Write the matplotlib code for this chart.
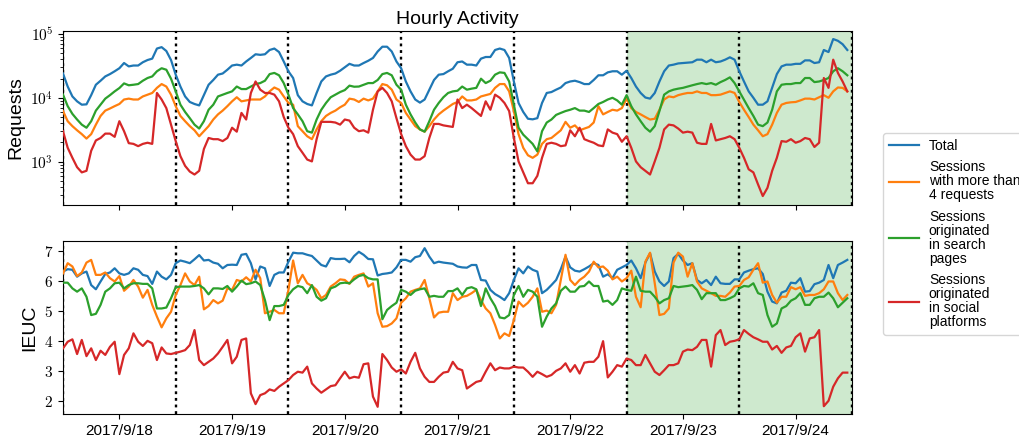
import numpy as np
import matplotlib
matplotlib.use('Agg')
import matplotlib.pyplot as plt
from matplotlib.ticker import FixedLocator, FixedFormatter, NullFormatter, LogLocator

plt.rcParams['font.family'] = ['Liberation Sans', 'DejaVu Sans']
plt.rcParams['mathtext.fontset'] = 'cm'

# ---------------- data ----------------
day_labels = ['2017/9/18', '2017/9/19', '2017/9/20', '2017/9/21',
              '2017/9/22', '2017/9/23', '2017/9/24']
weekend_days = ['2017/9/23', '2017/9/24']
series_labels = ['Total',
                 'Sessions\nwith more than\n4 requests',
                 'Sessions\noriginated\nin search\npages',
                 'Sessions\noriginated\nin social\nplatforms']
colors = ['#1f77b4', '#ff7f0e', '#2ca02c', '#d62728']

# Hourly requests (one value per hour, 7 days x 24 h)
req_total = [
    24000, 15000, 10500, 8800, 7800, 7900, 11000, 16000, 18500, 21600, 23500, 26000,
    29000, 35000, 31000, 32000, 32000, 36000, 39000, 41000, 59000, 62000, 54000, 39000,
    23000, 15000, 10500, 8600, 8000, 7600, 11000, 16000, 19000, 23000, 24000, 27500,
    32000, 33000, 32000, 37000, 42000, 48000, 47000, 48000, 56000, 59000, 52000, 37000,
    25900, 20400, 11000, 8800, 8000, 7600, 11900, 18000, 21600, 23000, 24000, 26500,
    30000, 34000, 32000, 32000, 35000, 38000, 42000, 53000, 63000, 63000, 53000, 37000,
    29000, 18000, 12600, 9400, 8400, 9400, 13400, 19000, 23000, 23500, 26000, 28500,
    36000, 37000, 33000, 33000, 32000, 41000, 43500, 43500, 56000, 59000, 56000, 42000,
    18000, 8300, 6000, 4700, 4600, 4800, 8300, 11900, 12300, 13400, 14500, 17000,
    18000, 18500, 17600, 16400, 16400, 19000, 22500, 22500, 25000, 26000, 26000, 23000,
    26500, 20400, 15000, 11900, 10100, 9700, 11900, 18000, 26000, 32000, 33000, 34500,
    35000, 35500, 36000, 39500, 39500, 36000, 39500, 36000, 37000, 39500, 43000, 39500,
    26000, 18000, 12600, 10000, 7800, 7800, 8800, 14300, 23500, 31000, 33000, 33000,
    34000, 34000, 38500, 38500, 35000, 36000, 56000, 52000, 83000, 78000, 69000, 56000,
]
req_more4 = [
    6200, 4300, 3600, 3100, 2700, 2300, 2700, 3800, 5200, 6300, 6800, 7400,
    8000, 9400, 9700, 9400, 9400, 10500, 11200, 11900, 14300, 16400, 15000, 11200,
    7400, 5200, 4300, 3600, 3100, 2500, 3000, 3600, 4570, 5500, 6300, 7400,
    8800, 10200, 8800, 9100, 9400, 9400, 9400, 10500, 12600, 14500, 13400, 10500,
    8300, 7800, 3600, 3000, 2500, 2250, 3200, 4300, 5200, 5800, 6300, 7100,
    7800, 9700, 9400, 8600, 9700, 9100, 9700, 12600, 16400, 15700, 13400, 9400,
    8300, 5800, 4570, 3600, 3200, 2950, 3600, 4570, 5500, 6300, 7100, 8000,
    8600, 10500, 9100, 9100, 9400, 10500, 11000, 11500, 14300, 16400, 16400, 12600,
    6200, 2700, 1650, 1260, 1150, 1290, 1900, 2250, 2350, 2700, 3100, 4200,
    3400, 3700, 3100, 3300, 3500, 4100, 7400, 5500, 6000, 6500, 6300, 6900,
    9700, 6900, 6000, 5500, 5000, 4570, 4700, 6500, 9400, 10500, 10200, 11000,
    11500, 11900, 11900, 12600, 11900, 11900, 11000, 11000, 11200, 11900, 12600, 11900,
    8600, 6500, 5000, 3800, 3100, 2500, 2700, 3800, 5800, 7800, 8300, 8500,
    8600, 9100, 9700, 9700, 9400, 10200, 11000, 10000, 12600, 14500, 14300, 12600,
]
req_search = [
    11200, 7400, 5600, 4570, 3800, 3400, 4300, 6300, 7800, 9700, 11000, 12600,
    14200, 16800, 15700, 16000, 16400, 18500, 20400, 21600, 26000, 29000, 27500, 19900,
    12600, 7800, 6000, 4800, 3800, 3300, 4300, 6500, 7800, 10500, 11200, 11900,
    12600, 15000, 13700, 13700, 15000, 16400, 17000, 18500, 23500, 24500, 22500, 17000,
    11200, 6900, 5500, 4300, 3000, 2850, 4570, 6500, 8300, 10200, 11200, 12300,
    13200, 15500, 14900, 15000, 16000, 17000, 17000, 19000, 23500, 24500, 22500, 16000,
    13400, 7800, 5500, 4100, 3200, 2950, 4300, 6500, 8300, 10200, 11900, 12600,
    12900, 15000, 13400, 13900, 14300, 19900, 17000, 18500, 23000, 25000, 24500, 18000,
    7800, 3400, 2650, 2250, 1900, 1450, 3000, 4100, 4570, 5400, 5800, 6200,
    6500, 6900, 6300, 6300, 6000, 6900, 8000, 8600, 9400, 10000, 9100, 7800,
    11000, 7400, 5500, 4300, 3400, 2950, 3600, 6200, 11200, 12600, 13400, 13900,
    14300, 15000, 15700, 16400, 17000, 16400, 17000, 16000, 17600, 19000, 20900, 17000,
    12600, 9400, 6900, 5200, 3800, 3600, 4100, 6500, 12600, 16000, 16400, 16400,
    17000, 17000, 20400, 20400, 17600, 18000, 19000, 20400, 26000, 29000, 26000, 22500,
]
req_social = [
    3000, 1650, 1150, 820, 680, 720, 1480, 2150, 2350, 2750, 2750, 2450,
    4300, 3000, 1950, 1900, 1750, 1900, 1980, 1900, 11900, 9400, 6900, 3800,
    2100, 1220, 860, 700, 630, 720, 1580, 2350, 2250, 2250, 2100, 2350,
    3400, 2950, 5800, 4570, 11900, 18000, 13400, 11900, 11900, 11200, 8800, 5000,
    3400, 2700, 1750, 1380, 1080, 1010, 2250, 4200, 4200, 4200, 4100, 3800,
    4570, 4400, 3400, 3000, 3100, 2850, 6500, 12600, 14300, 11900, 8800, 4800,
    2700, 1750, 1290, 1080, 1080, 1220, 2350, 3900, 3900, 3700, 3600, 3500,
    9400, 6900, 7800, 6900, 6000, 5200, 8800, 6500, 11200, 10000, 8300, 6200,
    2350, 1010, 680, 460, 460, 600, 1150, 1900, 1980, 1900, 1750, 1800,
    3100, 2500, 3400, 2250, 2100, 1980, 1800, 1750, 3200, 2850, 2700, 2050,
    2500, 1650, 1010, 820, 720, 630, 1010, 1650, 3200, 3800, 3700, 3300,
    2850, 2950, 2850, 1980, 1900, 1900, 3900, 2150, 2250, 2350, 2500, 2250,
    1650, 1150, 760, 680, 440, 290, 390, 720, 1150, 2100, 2050, 2250,
    1980, 2100, 2350, 2250, 1700, 1980, 20400, 14300, 39500, 24500, 18000, 12600,
]

# Hourly IEUC
ieuc_total = [
    6.31, 6.39, 6.37, 6.14, 6.25, 6.31, 5.86, 5.72, 5.98, 6.23, 6.28, 6.42,
    6.25, 6.20, 6.25, 6.42, 6.37, 6.20, 6.16, 5.90, 6.31, 6.14, 6.05, 6.20,
    6.59, 6.68, 6.64, 6.59, 6.72, 6.86, 6.68, 6.70, 6.61, 6.57, 6.42, 6.53,
    6.54, 6.53, 6.87, 6.90, 6.59, 6.05, 6.48, 6.42, 5.83, 6.20, 6.28, 6.28,
    6.64, 6.94, 6.92, 6.92, 6.87, 6.83, 6.68, 6.53, 6.48, 6.76, 6.73, 6.73,
    6.74, 6.62, 6.83, 6.97, 6.87, 6.73, 6.72, 6.18, 6.23, 6.25, 6.28, 6.45,
    6.70, 6.70, 6.64, 6.79, 6.83, 7.09, 6.81, 6.59, 6.64, 6.61, 6.59, 6.57,
    6.48, 6.45, 6.44, 6.53, 6.53, 6.03, 6.01, 5.70, 5.56, 5.47, 5.36, 5.59,
    6.03, 6.42, 6.25, 6.48, 6.37, 6.31, 5.59, 5.70, 5.86, 6.03, 6.39, 6.81,
    6.45, 6.34, 6.31, 6.39, 6.48, 6.59, 6.53, 6.14, 6.22, 6.09, 6.37, 6.45,
    6.53, 6.68, 6.42, 6.09, 6.61, 6.92, 6.31, 5.98, 5.83, 5.98, 6.76, 6.90,
    6.68, 6.53, 6.59, 6.03, 5.92, 6.03, 5.86, 6.14, 5.92, 5.90, 5.90, 6.05,
    6.05, 6.28, 6.34, 6.39, 6.42, 6.23, 5.64, 5.31, 5.25, 5.61, 5.67, 5.94,
    5.92, 6.09, 5.64, 5.66, 5.89, 5.94, 6.03, 6.53, 6.09, 6.53, 6.61, 6.70,
]
ieuc_more4 = [
    6.25, 6.59, 6.48, 6.16, 6.28, 6.61, 6.70, 6.20, 6.20, 6.28, 6.09, 5.98,
    6.16, 5.67, 5.81, 6.03, 5.81, 5.44, 5.70, 5.20, 4.81, 4.45, 4.75, 4.97,
    5.53, 5.86, 6.25, 5.98, 5.86, 6.14, 5.05, 5.16, 5.36, 5.25, 5.34, 5.75,
    5.70, 6.03, 5.98, 6.12, 5.98, 6.37, 6.09, 4.92, 4.97, 5.03, 4.92, 4.92,
    5.70, 6.68, 5.92, 6.20, 5.92, 5.83, 5.70, 5.42, 5.53, 5.81, 5.92, 6.05,
    6.03, 5.90, 6.14, 6.20, 6.25, 5.81, 5.92, 4.92, 4.47, 4.49, 4.58, 4.75,
    5.27, 5.42, 5.64, 5.70, 5.75, 6.03, 5.42, 4.78, 4.94, 4.97, 4.97, 5.59,
    5.36, 5.47, 5.50, 5.59, 5.70, 5.36, 5.08, 4.92, 4.53, 4.08, 4.25, 4.16,
    4.69, 5.31, 5.14, 5.27, 5.47, 5.75, 4.97, 5.01, 4.92, 5.20, 6.03, 6.87,
    6.03, 5.86, 6.03, 6.14, 6.31, 6.64, 6.45, 6.48, 6.34, 6.05, 6.14, 5.98,
    6.09, 6.34, 5.47, 5.12, 6.64, 6.94, 5.92, 4.86, 4.90, 5.08, 6.61, 6.94,
    6.81, 6.14, 6.59, 5.98, 5.75, 5.67, 5.59, 5.50, 5.50, 5.47, 5.61, 5.81,
    5.83, 6.03, 6.12, 6.37, 6.59, 5.94, 5.98, 5.53, 5.27, 5.47, 5.47, 5.79,
    5.72, 5.79, 5.50, 5.53, 5.53, 5.59, 5.72, 5.98, 5.98, 5.59, 5.36, 5.53,
]
ieuc_search = [
    5.94, 5.94, 5.75, 5.64, 5.75, 5.47, 4.86, 4.90, 5.20, 5.64, 5.75, 5.92,
    5.94, 5.75, 5.86, 5.92, 5.92, 5.90, 5.90, 5.75, 5.08, 5.08, 5.11, 5.42,
    5.79, 5.81, 5.81, 5.81, 5.83, 5.86, 5.75, 5.55, 5.75, 5.75, 5.73, 5.83,
    5.64, 5.81, 6.01, 5.89, 5.92, 5.98, 5.86, 5.36, 4.69, 5.16, 5.16, 5.20,
    5.53, 5.72, 5.83, 5.79, 5.59, 5.86, 5.47, 5.34, 5.42, 5.75, 5.81, 5.92,
    5.94, 5.92, 6.05, 6.16, 6.20, 6.09, 6.05, 6.05, 4.72, 5.03, 5.16, 5.27,
    5.70, 5.64, 5.53, 5.67, 5.72, 5.75, 5.47, 5.50, 5.47, 5.47, 5.66, 5.66,
    5.75, 5.53, 5.75, 5.79, 5.72, 5.16, 5.75, 5.42, 5.16, 4.78, 4.75, 4.86,
    5.53, 5.83, 5.47, 5.70, 5.64, 5.47, 4.47, 4.81, 5.08, 5.25, 5.67, 5.81,
    5.64, 5.64, 5.81, 5.83, 5.98, 5.83, 5.83, 5.31, 5.34, 5.20, 5.36, 5.75,
    5.70, 5.67, 6.14, 5.67, 5.64, 5.64, 5.47, 5.25, 5.36, 5.42, 5.83, 5.79,
    5.81, 5.83, 5.86, 5.70, 5.39, 5.59, 5.59, 5.59, 5.36, 5.36, 5.42, 5.50,
    5.75, 5.83, 5.81, 5.92, 5.59, 5.53, 4.86, 4.47, 4.58, 5.08, 5.16, 5.34,
    5.42, 5.59, 5.20, 5.20, 5.42, 5.47, 5.47, 5.61, 5.42, 5.12, 5.27, 5.42,
]
ieuc_social = [
    3.75, 3.97, 4.05, 3.56, 4.03, 3.49, 3.75, 3.36, 3.67, 3.53, 3.80, 3.97,
    2.89, 3.53, 3.75, 4.25, 3.97, 3.83, 4.00, 3.92, 3.36, 3.78, 3.58, 3.56,
    3.60, 3.64, 3.69, 3.86, 4.36, 3.36, 3.19, 3.30, 3.41, 3.58, 3.80, 4.03,
    3.25, 3.47, 4.03, 4.08, 2.25, 1.89, 2.19, 2.25, 2.38, 2.33, 2.47, 2.58,
    2.69, 2.86, 2.97, 2.94, 3.14, 2.58, 2.41, 2.27, 2.38, 2.49, 2.52, 2.75,
    2.97, 2.75, 2.80, 2.77, 3.22, 3.25, 2.14, 1.80, 3.56, 3.36, 3.11, 2.97,
    3.05, 2.91, 3.30, 3.60, 3.08, 2.80, 2.63, 2.63, 2.80, 2.94, 2.97, 3.30,
    3.08, 3.02, 2.41, 2.52, 2.63, 2.67, 2.97, 3.25, 3.02, 3.11, 3.08, 3.08,
    3.14, 3.11, 3.11, 2.97, 2.80, 2.97, 2.89, 2.80, 2.86, 3.00, 3.08, 3.25,
    2.97, 3.19, 2.91, 3.27, 3.30, 3.30, 3.47, 3.99, 2.78, 2.97, 3.19, 3.14,
    3.41, 3.36, 3.19, 3.19, 3.53, 3.25, 2.97, 2.86, 3.02, 3.19, 3.19, 3.25,
    3.64, 3.71, 3.69, 3.80, 4.03, 4.03, 3.14, 4.19, 4.36, 3.86, 3.97, 4.00,
    4.05, 4.36, 4.23, 4.12, 4.05, 3.97, 3.97, 3.71, 3.83, 3.60, 3.78, 3.83,
    4.12, 4.25, 3.64, 4.08, 4.12, 4.36, 1.82, 2.00, 2.47, 2.75, 2.94, 2.94,
]

# ---------------- plot ----------------
req_series = [req_total, req_more4, req_search, req_social]
ieuc_series = [ieuc_total, ieuc_more4, ieuc_search, ieuc_social]
n_days = len(day_labels)
hours = np.arange(24 * n_days)

W, H = 1019, 438
fig = plt.figure(figsize=(W / 100, H / 100), dpi=100)
ax1 = fig.add_axes([63 / W, 1 - 205 / H, 789 / W, 174 / H])
ax2 = fig.add_axes([63 / W, 1 - 414.3 / H, 789 / W, 173.6 / H], sharex=ax1)

wk_start = 24 * day_labels.index(weekend_days[0])
wk_end = 24 * (day_labels.index(weekend_days[-1]) + 1)

lines = []
for ax, data in ((ax1, req_series), (ax2, ieuc_series)):
    ax.axvspan(wk_start, wk_end, color='#2ca02c', alpha=0.23, lw=0, zorder=0)
    for d in range(n_days + 1):
        ax.axvline(24 * d, color='black', ls=(0, (1.2, 1.6)), lw=1.7, zorder=1)
    for vals, c, lab in zip(data, colors, series_labels):
        l, = ax.plot(hours, vals, color=c, lw=1.6, label=lab, zorder=3)
        if ax is ax1:
            lines.append(l)

ax1.set_xlim(0, 24 * n_days)
ax1.set_yscale('log')
ax1.set_ylim(210, 1.11e5)
ax1.yaxis.set_major_locator(FixedLocator([1e3, 1e4, 1e5]))
ax1.yaxis.set_major_formatter(FixedFormatter([r'$10^{3}$', r'$10^{4}$', r'$10^{5}$']))
ax1.yaxis.set_minor_locator(LogLocator(base=10, subs=np.arange(2, 10)))
ax1.yaxis.set_minor_formatter(NullFormatter())
ax1.set_ylabel('Requests', fontsize=14)
ax1.set_title('Hourly Activity', fontsize=14, pad=5)
ax1.tick_params(axis='x', labelbottom=False)

ax2.set_ylim(1.55, 7.34)
yt = [2, 3, 4, 5, 6, 7]
ax2.yaxis.set_major_locator(FixedLocator(yt))
ax2.yaxis.set_major_formatter(FixedFormatter([r'$%d$' % v for v in yt]))
ax2.set_ylabel('IEUC', fontsize=14)

ax2.set_xticks([24 * i + 12 for i in range(n_days)])
ax2.set_xticklabels(day_labels, fontsize=11)
for ax in (ax1, ax2):
    ax.tick_params(axis='y', labelsize=11)

leg = fig.legend(handles=lines, loc='upper left', bbox_to_anchor=(883 / W, 1 - 133 / H),
                 fontsize=10, handlelength=2.2, handletextpad=0.7, borderaxespad=0,
                 borderpad=0.4, labelspacing=0.55)
for t in leg.get_texts():
    t.set_linespacing(1.0)

fig.savefig('out.png', dpi=100)
